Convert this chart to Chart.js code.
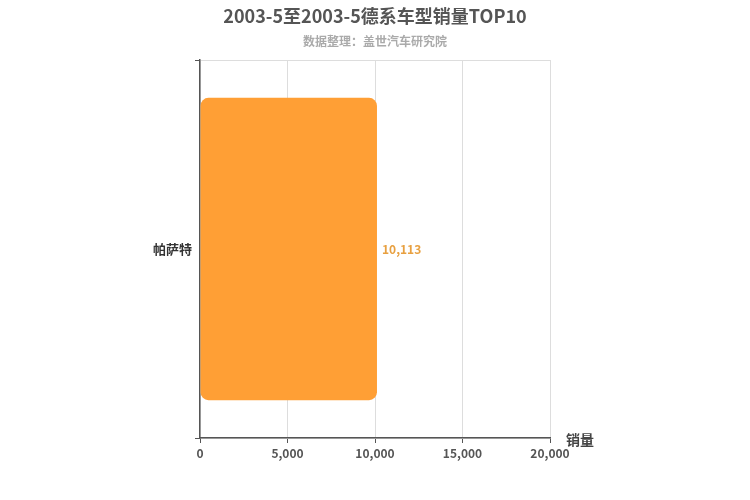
<!DOCTYPE html><html><head><meta charset="utf-8">
<script src="https://cdn.jsdelivr.net/npm/chart.js@4/dist/chart.umd.min.js"></script>
<style>body{margin:0}#w{width:750px;height:500px}</style></head><body><div id="w"><canvas id="c"></canvas></div>
<script>
const categories=["帕萨特"];
const sales=[10113];
const xTicks=[0,5000,10000,15000,20000];
const F='"Noto Sans CJK SC","DejaVu Sans",sans-serif';
const deco={id:'deco',afterDraw(ch){const c=ch.ctx,a=ch.chartArea;c.save();c.textAlign='center';c.textBaseline='middle';
c.font='bold 18px '+F;c.fillStyle='#555';c.fillText('2003-5至2003-5德系车型销量TOP10',375,16);
c.font='bold 12px '+F;c.fillStyle='#aaa';c.fillText('数据整理：盖世汽车研究院',375,41);
c.font='bold 14px '+F;c.fillStyle='#444';c.fillText('销量',580,440);
const m=ch.getDatasetMeta(0);c.font='bold 12px '+F;c.fillStyle='#e8a040';c.textAlign='left';
m.data.forEach((b,i)=>c.fillText(sales[i].toLocaleString('en-US'),b.x+5,b.y));c.restore();}};
new Chart(document.getElementById('c'),{type:'bar',data:{labels:categories,datasets:[{data:sales,backgroundColor:'#ff9f35',borderRadius:8,borderSkipped:false,categoryPercentage:0.8,barPercentage:1}]},
options:{indexAxis:'y',responsive:true,maintainAspectRatio:false,animation:false,layout:{padding:{top:60,right:200}},
plugins:{legend:{display:false},tooltip:{enabled:false}},
scales:{x:{min:0,max:20000,afterBuildTicks:s=>{s.ticks=xTicks.map(v=>({value:v}))},afterFit:s=>{s.height=62},
ticks:{font:{family:F,size:12,weight:'bold'},color:'#555',callback:v=>v.toLocaleString('en-US')},
grid:{color:'#ddd',tickLength:5,tickColor:'#555'},border:{color:'#555',width:1.5}},
y:{afterFit:s=>{s.width=200},ticks:{font:{family:F,size:13,weight:'bold'},color:'#333'},
grid:{offset:true,color:'#ddd',tickLength:5,tickColor:'#555'},border:{color:'#555',width:1.5}}}},plugins:[deco]});
</script></body></html>
